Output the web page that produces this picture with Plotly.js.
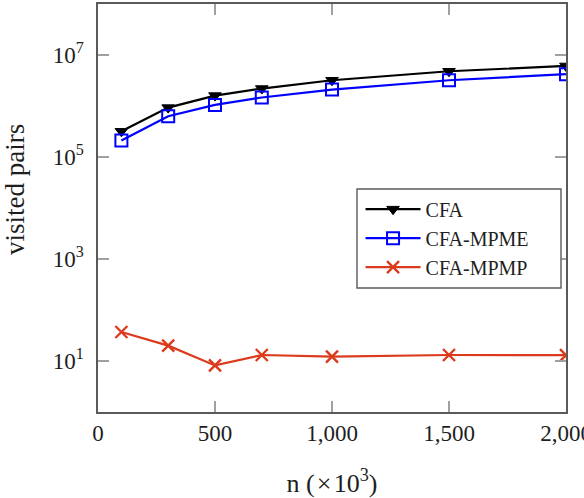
<!DOCTYPE html>
<html>
<head>
<meta charset="utf-8">
<script src="https://cdn.plot.ly/plotly-3.0.1.min.js"></script>
<style>
  html, body { margin: 0; padding: 0; background: #fff; overflow: hidden; }
  #chart { width: 584px; height: 498px; }
</style>
</head>
<body>
<div id="chart"></div>
<script>
// problem size n (in thousands)
const nValues = [100, 300, 500, 700, 1000, 1500, 2000];

// number of visited pairs per algorithm
const cfa     = [3.2e5, 9.3e5, 1.6e6, 2.2e6, 3.2e6, 4.8e6, 6.1e6];
const cfaMpme = [2.1e5, 6.3e5, 1.05e6, 1.47e6, 2.1e6, 3.2e6, 4.2e6];
const cfaMpmp = [37, 20, 8.2, 13.1, 12.2, 13.1, 13.0];

const seriesNames = ['CFA', 'CFA-MPME', 'CFA-MPMP'];

const xTickVals = [0, 500, 1000, 1500, 2000];
const xTickText = ['0', '500', '1,000', '1,500', '2,000'];
const yTickVals = [1e1, 1e3, 1e5, 1e7];
const yTickText = ['10<sup>1</sup>', '10<sup>3</sup>', '10<sup>5</sup>', '10<sup>7</sup>'];

const xTitle = 'n (\u200a×\u200a10<sup>3</sup>)';
const yTitle = 'visited pairs';

const serif = 'Liberation Serif, DejaVu Serif, serif';
const red = '#dc3a1c';
const ink = '#1e1e1e';

const traces = [
  {
    x: nValues, y: cfa, name: seriesNames[0], type: 'scatter', mode: 'lines+markers',
    line: { color: '#000000', width: 2.2 },
    marker: { symbol: 'triangle-down', size: 11, color: '#000000', line: { color: '#000000', width: 1 } }
  },
  {
    x: nValues, y: cfaMpme, name: seriesNames[1], type: 'scatter', mode: 'lines+markers',
    line: { color: '#0000ff', width: 2.2 },
    marker: { symbol: 'square-open', size: 12, color: '#0000ff', line: { color: '#0000ff', width: 2 } }
  },
  {
    x: nValues, y: cfaMpmp, name: seriesNames[2], type: 'scatter', mode: 'lines+markers',
    line: { color: red, width: 2.2 },
    marker: { symbol: 'x-thin-open', size: 12, color: red, line: { color: red, width: 2.4 } }
  }
];

const axisCommon = {
  showline: true, linecolor: '#5a5a5a', linewidth: 1.6, mirror: 'ticks',
  ticks: 'inside', ticklen: 11, tickwidth: 1.4, tickcolor: '#a0a0a0',
  showgrid: false, zeroline: false, ticklabeloverflow: 'allow',
  tickfont: { family: serif, size: 23, color: ink }
};

const layout = {
  width: 584, height: 498,
  margin: { l: 98, r: 18, t: 4, b: 86 },
  paper_bgcolor: '#ffffff', plot_bgcolor: '#ffffff',
  showlegend: true,
  xaxis: Object.assign({}, axisCommon, {
    range: [0, 2000],
    tickvals: xTickVals, ticktext: xTickText,
    title: { text: xTitle, font: { family: serif, size: 26, color: ink }, standoff: 28 }
  }),
  yaxis: Object.assign({}, axisCommon, {
    type: 'log', range: [0, 8],
    tickvals: yTickVals, ticktext: yTickText,
    ticklabelstandoff: 8
  }),
  annotations: [
    {
      text: yTitle, textangle: -90, showarrow: false,
      xref: 'paper', yref: 'paper', x: (15 - 98) / 468, y: (412 - 190) / 408,
      xanchor: 'center', yanchor: 'middle',
      font: { family: serif, size: 27, color: ink }
    }
  ],
  legend: {
    x: 0.561, y: 0.545, xanchor: 'left', yanchor: 'top',
    bgcolor: 'rgba(0,0,0,0)', borderwidth: 0,
    itemwidth: 55,
    font: { family: serif, size: 20, color: ink }
  },
  shapes: [
    {
      type: 'rect', xref: 'paper', yref: 'paper',
      x0: (357 - 98) / 468, x1: (561 - 98) / 468,
      y0: (412 - 288) / 408, y1: (412 - 189) / 408,
      line: { color: '#5a5a5a', width: 1.4 }, fillcolor: '#ffffff', layer: 'above'
    }
  ]
};

Plotly.newPlot('chart', traces, layout, { staticPlot: true, displayModeBar: false });
</script>
</body>
</html>
